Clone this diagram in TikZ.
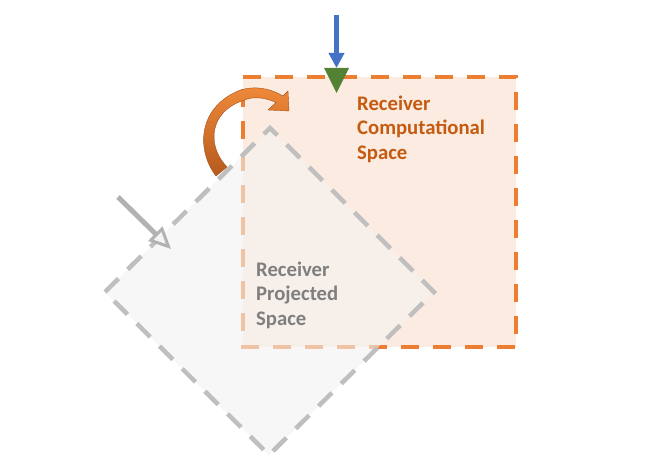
\documentclass[tikz,border=0pt]{standalone}
\usepackage{fontspec}
\setmainfont{Carlito}
\usetikzlibrary{arrows.meta}
\definecolor{sqorange}{HTML}{ED7D31}
\definecolor{sqfill}{HTML}{FCEBE0}
\definecolor{dmgray}{HTML}{BFBFBF}
\definecolor{dmfill}{HTML}{F2F2F2}
\definecolor{txtorange}{HTML}{C55A11}
\definecolor{txtgray}{HTML}{7F7F7F}
\definecolor{arrblue}{HTML}{4472C4}
\definecolor{trigreen}{HTML}{548235}
\definecolor{curvetop}{HTML}{F08A3A}
\definecolor{curvebot}{HTML}{B55A1E}
\tikzset{
  sqbox/.style={draw=sqorange, fill=sqfill, line width=4pt, dash pattern=on 18pt off 14pt},
  dmbox/.style={draw=dmgray, fill=dmfill, fill opacity=0.6, line width=4.5pt, dash pattern=on 19pt off 13pt},
  lbl/.style={font=\fontsize{20.7}{24.7}\selectfont\bfseries, align=left, inner sep=0pt, anchor=north west},
}
\begin{document}
\begin{tikzpicture}[x=1pt,y=-1pt]
\useasboundingbox (0,0) rectangle (672,468);
% computational space (square)
\draw[sqbox] (243,77) -- (516,77) -- (516,347) -- (243,347) -- cycle;
% curved arrow
\shade[top color=curvetop, bottom color=curvebot, draw=curvebot!90!black, line width=0.4pt]
  (216,176) .. controls (196,150) and (198,108) .. (238,91)
  .. controls (253,85) and (270,88) .. (283,96)
  -- (288,91) -- (289,111) -- (268,110) -- (276,102.5)
  .. controls (264,97) and (252,96) .. (242,101)
  .. controls (210,112) and (206,145) .. (227,167) -- cycle;
% projected space (diamond)
\draw[dmbox] (105,292) -- (270,128) -- (434,292) -- (269,455) -- cycle;
% labels
\node[lbl, text=txtorange] (comp) at (357,95.5) {Receiver\\Computational\\Space};
\node[lbl, text=txtgray] (proj) at (256,261.5) {Receiver\\Projected\\Space};
% blue arrow and green marker
\coordinate (bs) at (336.5,15);
\coordinate (be) at (336.5,68);
\draw[arrblue, line width=4.5pt, -{Triangle[length=15pt,width=15pt]}] (bs) -- (be);
\fill[trigreen] (324,68) -- (349,68) -- (336.5,93) -- cycle;
% gray arrow
\coordinate (gs) at (118,197);
\coordinate (ge) at (171,249);
\draw[black!30, line width=5pt, -{Triangle[length=22pt,width=20pt,line width=3pt,fill=white!85!dmgray]}] (gs) -- (ge);
\end{tikzpicture}
\end{document}
